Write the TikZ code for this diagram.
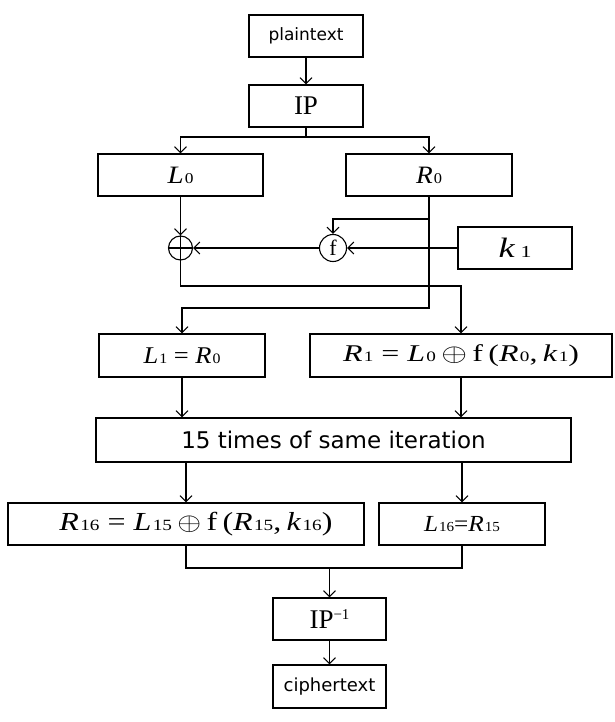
\documentclass[tikz,border=0pt]{standalone}
\usepackage{fontspec}
\setmainfont{Liberation Serif}
\newfontfamily\sansf{DejaVu Sans}
\usetikzlibrary{arrows.meta}
\newcommand\vs[2]{\textit{#1}\kern0.04em\scalebox{0.6}{\upshape #2}}
\newcommand\xo{\,$\oplus$\,}
\newcommand\fitw[2]{\resizebox{#1}{\height}{#2}}
\tikzset{
  box/.style={draw, line width=1.1pt, minimum height=42pt, inner sep=0pt},
  arr/.style={-{Straight Barb[length=6pt,width=12pt]}, line width=1.1pt},
  ln/.style={line width=1.1pt},
}
\begin{document}
\begin{tikzpicture}[x=1pt,y=-1pt]
\useasboundingbox (0,0) rectangle (614,722);
\node[box, minimum width=114pt, font=\sansf\fontsize{17}{20}\selectfont] (plain) at (306,36) {plaintext};
\node[box, minimum width=114pt, font=\fontsize{27}{30}\selectfont] (ip) at (306,106) {IP};
\node[box, minimum width=165pt, font=\fontsize{25}{28}\selectfont] (l0) at (180.5,175) {\fitw{26pt}{\vs{L}{0}}};
\node[box, minimum width=166pt, font=\fontsize{25}{28}\selectfont] (r0) at (429,175) {\fitw{26pt}{\vs{R}{0}}};
\node[draw, circle, line width=1.1pt, minimum size=24pt, inner sep=0pt] (xor) at (180.5,248) {};
\draw[ln] (xor.north) -- (xor.south) (xor.west) -- (xor.east);
\node[draw, circle, line width=1.1pt, minimum size=27pt, inner sep=0pt, font=\fontsize{22}{24}\selectfont] (fn) at (333,248) {f};
\node[box, minimum width=114pt, font=\fontsize{28}{30}\selectfont] (k1) at (515,248) {\fitw{33pt}{\textit{k}\kern0.15em\scalebox{0.6}{1}}};
\node[box, minimum width=166pt, minimum height=43pt, font=\fontsize{24}{26}\selectfont] (l1) at (182,355.5) {\fitw{77pt}{\vs{L}{1} = \vs{R}{0}}};
\node[box, minimum width=302pt, minimum height=43pt, font=\fontsize{24}{26}\selectfont] (r1) at (461,355.5) {\fitw{236pt}{\vs{R}{1} = \vs{L}{0}\xo f\,(\vs{R}{0},\,\vs{k}{1})}};
\node[box, minimum width=475pt, minimum height=44pt, font=\sansf\fontsize{23}{26}\selectfont] (iter) at (333.5,440) {15 times of same iteration};
\node[box, minimum width=356pt, font=\fontsize{26}{28}\selectfont] (r16) at (186,524) {\hspace*{20pt}\fitw{273pt}{\vs{R}{16} = \vs{L}{15}\xo f\,(\vs{R}{15},\,\vs{k}{16})}};
\node[box, minimum width=166pt, font=\fontsize{23}{26}\selectfont] (l16) at (462,524) {\fitw{76pt}{\vs{L}{16}=\vs{R}{15}}};
\node[box, minimum width=113pt, font=\fontsize{27}{30}\selectfont] (ipinv) at (329.5,619) {IP\raisebox{9.5pt}{\fontsize{15}{15}\selectfont −1}};
\node[box, minimum width=113pt, minimum height=43pt, font=\sansf\fontsize{18}{20}\selectfont] (cipher) at (329.5,686.5) {ciphertext};
\coordinate (sp) at (306,137);
\coordinate (c1) at (461,286);
\coordinate (jn) at (329.5,568);
\draw[arr] (plain) -- (ip);
\draw[ln] (ip.south) -- (sp);
\draw[arr] (sp) -| (l0.north);
\draw[arr] (sp) -| (r0.north);
\draw[arr] (l0.south) -- (xor.north);
\draw[arr] (r0.south) |- (l1.north |- 0,308) -- (l1.north);
\draw[arr] (r0.south |- 0,219) -| (fn.north);
\draw[arr] (k1.west) -- (fn.east);
\draw[arr] (fn.west) -- (xor.east);
\draw[arr] (xor.south) |- (c1) -- (r1.north);
\draw[arr] (l1.south) -- (l1.south |- iter.north);
\draw[arr] (r1.south) -- (r1.south |- iter.north);
\draw[arr] (r16.north |- iter.south) -- (r16.north);
\draw[arr] (l16.north |- iter.south) -- (l16.north);
\draw[ln] (r16.south) |- (jn) -| (l16.south);
\draw[arr] (jn) -- (ipinv.north);
\draw[arr] (ipinv) -- (cipher);
\end{tikzpicture}
\end{document}
